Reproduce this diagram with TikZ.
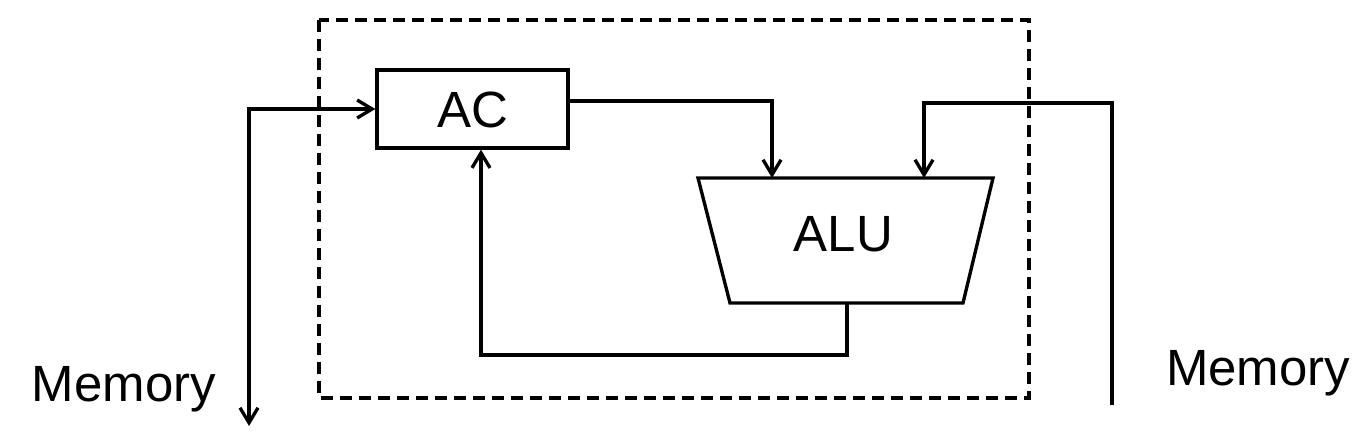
\documentclass[tikz,border=0pt]{standalone}
\usepackage{fontspec}
\setmainfont{Liberation Sans}
\usetikzlibrary{arrows.meta}
\begin{document}
\begin{tikzpicture}[x=0.02cm,y=-0.02cm,line width=1.9pt,
  >={Straight Barb[length=0.3cm,width=0.36cm,line width=1.9pt]},
  dashedbox/.style={draw,dash pattern=on 0.24cm off 0.14cm},
  regbox/.style={draw,minimum width=3.82cm,minimum height=1.56cm,inner sep=0pt,text height=0.73cm,text depth=0pt},
  lbl/.style={font=\fontsize{29}{34}\selectfont,inner sep=0pt}]
\useasboundingbox (0,0) rectangle (1356,442);
\draw[dashedbox] (319,20) rectangle (1029,398);
\node[regbox,lbl] (ac) at (472.5,109) {AC};
\draw (698,178) -- (993,178) -- (963,303) -- (730,303) -- cycle;
\node[lbl,anchor=base] (alu) at (843.5,252) {ALU};
\coordinate (aluin1) at (772,178);
\coordinate (aluin2) at (924,178);
\coordinate (aluout) at (847,303);
\node[lbl,anchor=base] (meml) at (124,401) {Memory};
\node[lbl,anchor=base] (memr) at (1258,385) {Memory};
\coordinate (memlend) at (249,426);
\coordinate (memrend) at (1112,405);
\draw[<->] (memlend) |- (ac.west);
\draw[->] (memrend) -- (1112,103) -| (aluin2);
\draw[->] ([yshift=0.16cm]ac.east) -| (aluin1);
\draw[->] (aluout) -- (847,355) -| ([xshift=0.17cm]ac.south);
\end{tikzpicture}
\end{document}
